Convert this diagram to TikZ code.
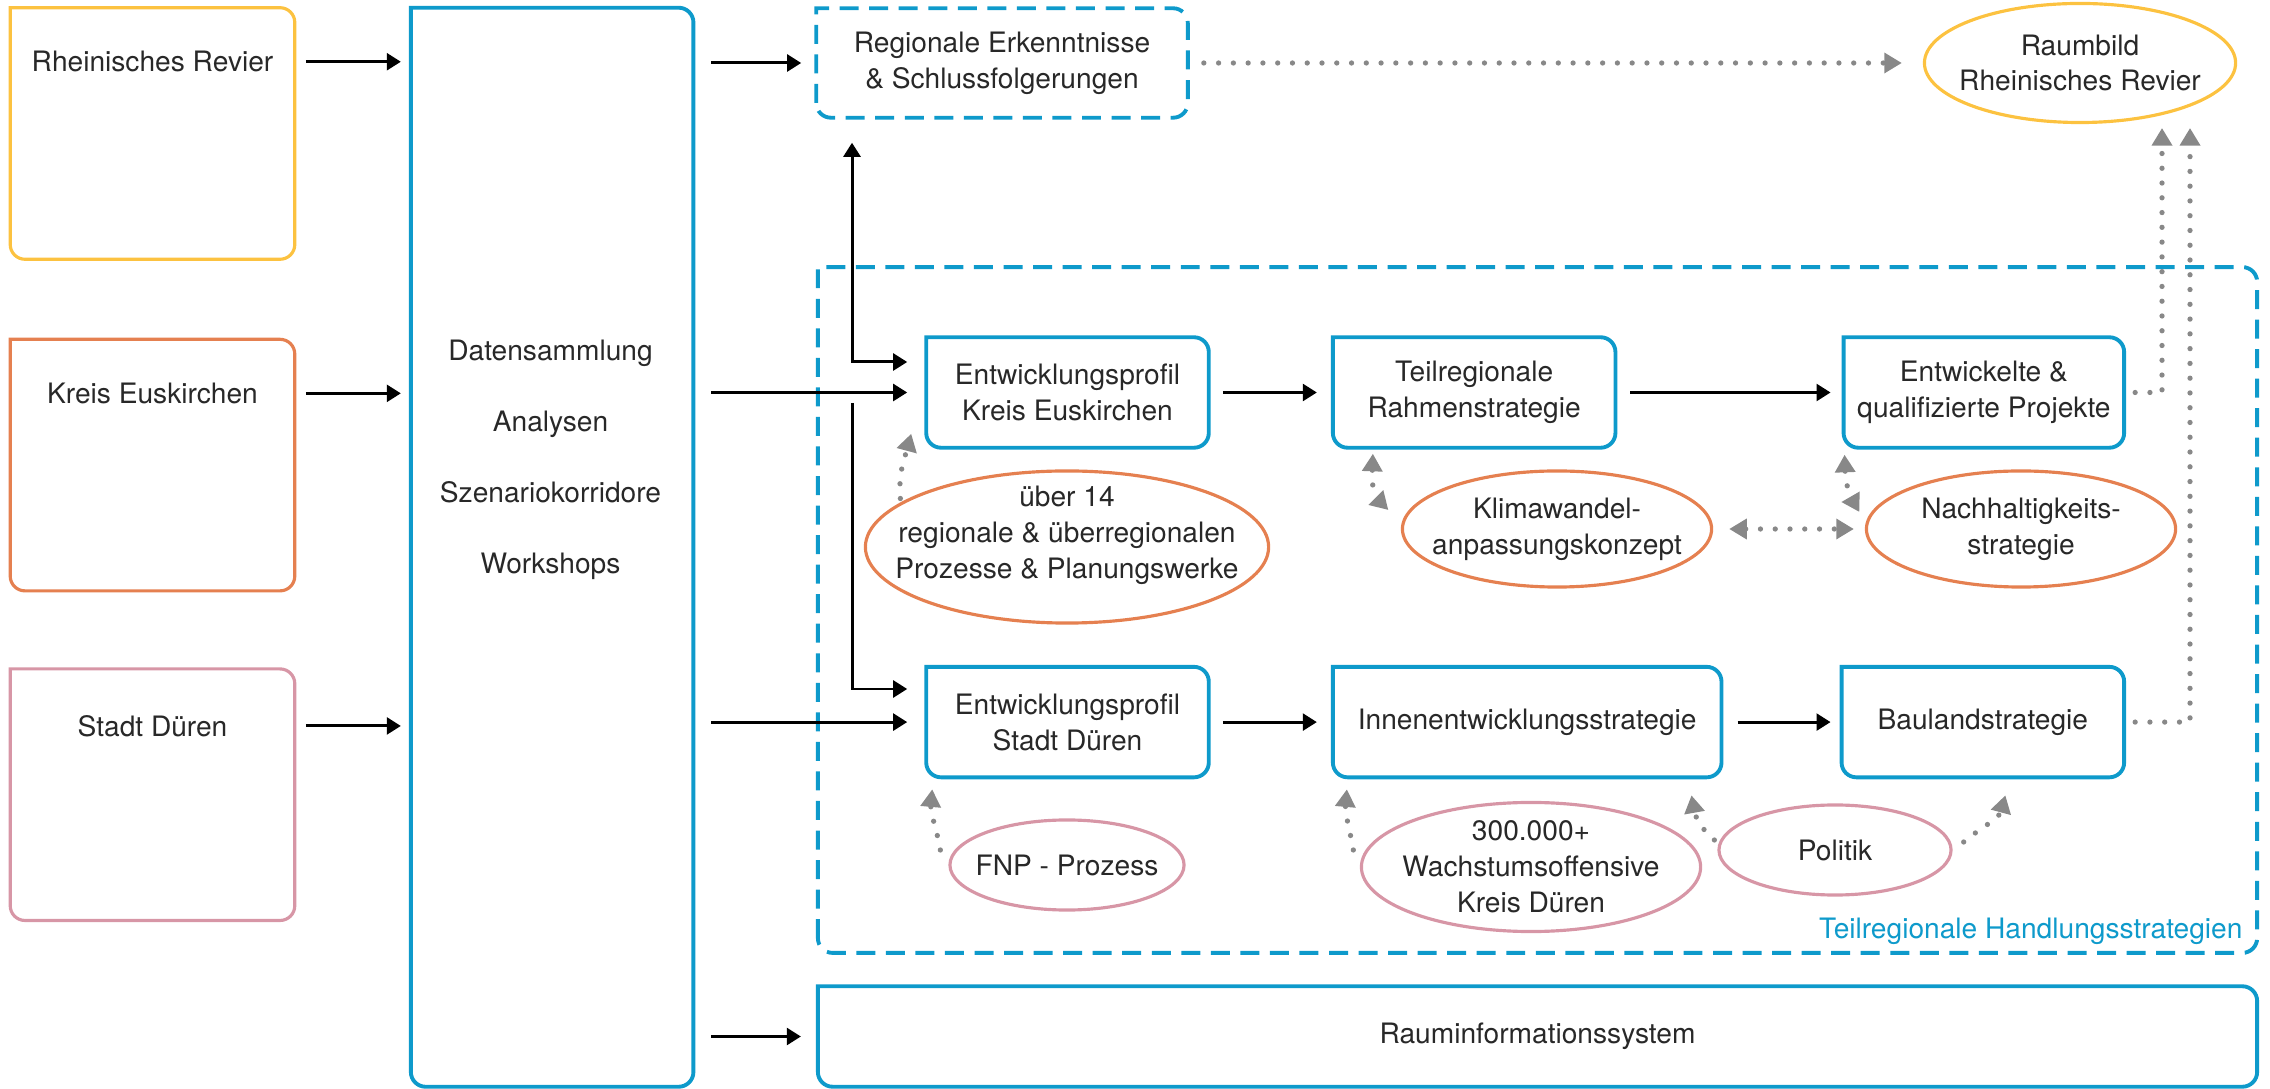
\documentclass[tikz,border=0pt]{standalone}
\usepackage{fontspec}
\setmainfont{TeX Gyre Heros}
\usetikzlibrary{arrows.meta, positioning, shapes.geometric}

\definecolor{revyellow}{RGB}{252,194,64}
\definecolor{euorange}{RGB}{229,128,80}
\definecolor{durpink}{RGB}{215,150,166}
\definecolor{planblue}{RGB}{14,154,203}
\definecolor{dotgray}{RGB}{136,136,136}
\definecolor{txtgray}{RGB}{40,40,40}

\newcommand{\cornerrad}{4.2pt}
% frame with a square top left corner and round other corners
\newcommand{\tlframe}[2][]{%
  \draw[#1] ([yshift=\cornerrad]#2.south west) -- (#2.north west)
    -- ([xshift=-\cornerrad]#2.north east) arc[start angle=90, end angle=0, radius=\cornerrad]
    -- ([yshift=\cornerrad]#2.south east) arc[start angle=0, end angle=-90, radius=\cornerrad]
    -- ([xshift=\cornerrad]#2.south west) arc[start angle=270, end angle=180, radius=\cornerrad]
    -- cycle;}

\begin{document}
\begin{tikzpicture}[x=0.01cm, y=0.01cm, >={Triangle[length=4pt, width=4.8pt]},
    font=\fontsize{8}{10.2}\selectfont, text=txtgray,
    region/.style={minimum width=2.83cm, minimum height=2.5cm, inner sep=0pt},
    stage/.style={minimum width=2.81cm, minimum height=1.09cm, inner sep=0pt, align=center},
    bubble/.style={ellipse, draw=#1, line width=0.9pt, inner sep=0pt},
    caption/.style={inner sep=0pt, align=center},
    blk/.style={->, line width=0.85pt, black},
    dots/.style={>={Triangle[length=5pt, width=5.6pt]}, dotgray, line width=1.5pt,
      line cap=round, dash pattern=on 0pt off 4.2pt},
    solidframe/.style={line width=1.1pt},
    dashframe/.style={line width=1.1pt, dash pattern=on 5.4pt off 3pt}]
  \useasboundingbox (0,0) rectangle (2270,-1089);

  % regions on the left
  \node[region] (rr) at (152.5,-133.5) {};
  \node[region, below=0.8cm of rr] (ke) {};
  \node[region, below=0.78cm of ke] (sd) {};
  \node[caption] (rrt) at ([yshift=-0.54cm]rr.north) {Rheinisches Revier};
  \node[caption] (ket) at ([yshift=-0.54cm]ke.north) {Kreis Euskirchen};
  \node[caption] (sdt) at ([yshift=-0.57cm]sd.north) {Stadt Düren};

  % data and analysis
  \node[minimum width=2.81cm, minimum height=10.77cm, inner sep=0pt, anchor=north west] (dat)
    at ([xshift=1.16cm]rr.north east) {};
  \node[caption, font=\fontsize{8}{20.2}\selectfont] (datt) at (550.5,-460)
    {Datensammlung\\Analysen\\Szenariokorridore\\Workshops};

  % regional results
  \node[stage, minimum width=3.7cm, minimum height=1.08cm] (re) at (1002,-63)
    {Regionale Erkenntnisse\\\& Schlussfolgerungen};
  \node[bubble=revyellow, minimum width=3.11cm, minimum height=1.19cm] (rb) at (2080,-63) {};
  \node[caption] (rbt) at (rb) {Raumbild\\Rheinisches Revier};

  % sub-regional strategies
  \node[minimum width=14.37cm, minimum height=6.84cm, inner sep=0pt] (th) at (1537.5,-610) {};
  \node[caption, anchor=south east, text=planblue] (tht)
    at ([xshift=-0.14cm, yshift=0.08cm]th.south east) {Teilregionale Handlungsstrategien};
  \node[stage] (pk) at (1067.5,-392.5) {Entwicklungsprofil\\Kreis Euskirchen};
  \node[stage, right=1.24cm of pk] (tr) {Teilregionale\\Rahmenstrategie};
  \node[stage, minimum width=2.79cm, right=2.28cm of tr] (eq) {Entwickelte \&\\qualifizierte Projekte};
  \node[stage, below=2.19cm of pk] (ps) {Entwicklungsprofil\\Stadt Düren};
  \node[stage, minimum width=3.87cm, right=1.24cm of ps] (ie) {Innenentwicklungsstrategie};
  \node[stage, right=1.2cm of ie] (bl) {Baulandstrategie};

  \node[bubble=euorange, minimum width=4.03cm, minimum height=1.52cm] (ue) at (1067,-547) {};
  \node[bubble=euorange, minimum width=3.09cm, minimum height=1.16cm] (kw) at (1557,-529) {};
  \node[bubble=euorange, minimum width=3.09cm, minimum height=1.16cm] (nh) at (2021,-529) {};
  \node[bubble=durpink, minimum width=2.34cm, minimum height=0.9cm] (fnp) at (1067,-865) {};
  \node[bubble=durpink, minimum width=3.39cm, minimum height=1.29cm] (wo) at (1531,-867) {};
  \node[bubble=durpink, minimum width=2.32cm, minimum height=0.9cm] (po) at (1835,-850) {};
  \node[caption] (uet) at ([yshift=0.12cm]ue) {über 14\\regionale \& überregionalen\\Prozesse \& Planungswerke};
  \node[caption] (kwt) at (kw) {Klimawandel-\\anpassungskonzept};
  \node[caption] (nht) at (nh) {Nachhaltigkeits-\\strategie};
  \node[caption] (fnpt) at (fnp) {FNP - Prozess};
  \node[caption] (wot) at (wo) {300.000+\\Wachstumsoffensive\\Kreis Düren};
  \node[caption] (pot) at (po) {Politik};

  \node[minimum width=14.37cm, minimum height=0.99cm, inner sep=0pt] (ri) at (1537.5,-1036.5)
    {Rauminformationssystem};

  % frames
  \foreach \n/\c in {rr/revyellow, ke/euorange, sd/durpink}
    {\tlframe[draw=\c, line width=0.9pt]{\n}}
  \foreach \n in {dat, pk, tr, eq, ps, ie, bl, ri}
    {\tlframe[draw=planblue, solidframe]{\n}}
  \foreach \n in {re, th}
    {\tlframe[draw=planblue, dashframe]{\n}}

  % black flow
  \foreach \n in {rr, ke, sd}
    \draw[blk, shorten <=0.11cm, shorten >=0.1cm] (\n t -| \n.east) -- (\n t -| dat.west);
  \draw[blk, shorten <=0.18cm, shorten >=0.15cm] (re.west -| dat.east) -- (re.west);
  \draw[blk, shorten <=0.18cm, shorten >=0.19cm] (pk.west -| dat.east) -- (pk.west);
  \draw[blk, shorten <=0.18cm, shorten >=0.19cm] (ps.west -| dat.east) -- (ps.west);
  \draw[blk, shorten <=0.18cm, shorten >=0.17cm] (ri.west -| dat.east) -- (ri.west);

  \coordinate (brtop) at (852,-362);
  \coordinate (brlow) at (852,-403);
  \coordinate (brsd) at (852,-689);
  \draw[blk, <->, shorten <=0.25cm, shorten >=0.19cm] (re.south -| brtop) |- (brtop -| pk.west);
  \draw[blk, shorten >=0.19cm] (brlow) |- (brsd -| ps.west);

  \draw[blk, shorten <=0.14cm, shorten >=0.16cm] (pk) -- (tr);
  \draw[blk, shorten <=0.15cm, shorten >=0.13cm] (tr) -- (eq);
  \draw[blk, shorten <=0.14cm, shorten >=0.16cm] (ps) -- (ie);
  \draw[blk, shorten <=0.16cm, shorten >=0.11cm] (ie) -- (bl);

  % dotted links
  \draw[dots, ->, shorten <=0.16cm, shorten >=0.21cm] (re) -- (rb);
  \coordinate (rbin1) at (2162,-128);
  \coordinate (rbin2) at (2190,-128);
  \draw[dots, ->, shorten <=0.11cm] (eq.east) -| (rbin1);
  \draw[dots, ->, shorten <=0.11cm] (bl.east) -| (rbin2);

  \draw[dots, ->] ([xshift=-0.08cm]ue.163) to[out=95, in=-105]
    ([xshift=-0.15cm, yshift=0.14cm]pk.south west);
  \draw[dots, <->] ([xshift=0.4cm, yshift=-0.06cm]tr.south west) to[out=-92, in=135]
    ([xshift=-0.125cm, yshift=0.19cm]kw.west);
  \draw[dots, <->, shorten <=0.16cm, shorten >=0.11cm] (kw.east) -- (nh.west);
  \draw[dots, <->] ([xshift=0.01cm, yshift=-0.07cm]eq.south west) to[out=-88, in=120]
    ([xshift=-0.055cm, yshift=0.17cm]nh.west);

  \draw[dots, ->] ([xshift=-0.08cm, yshift=0.15cm]fnp.west) to[out=100, in=-95]
    ([xshift=0.06cm, yshift=-0.12cm]ps.south west);
  \draw[dots, ->] ([xshift=-0.065cm, yshift=0.17cm]wo.west) to[out=100, in=-95]
    ([xshift=0.14cm, yshift=-0.12cm]ie.south west);
  \draw[dots, ->] ([xshift=-0.03cm, yshift=0.1cm]po.west) to[out=140, in=-80]
    ([xshift=-0.3cm, yshift=-0.18cm]ie.south east);
  \draw[dots, ->] ([xshift=0.11cm, yshift=0.08cm]po.east) to[out=40, in=-105]
    ([xshift=0.225cm, yshift=-0.18cm]bl.south);
\end{tikzpicture}
\end{document}
